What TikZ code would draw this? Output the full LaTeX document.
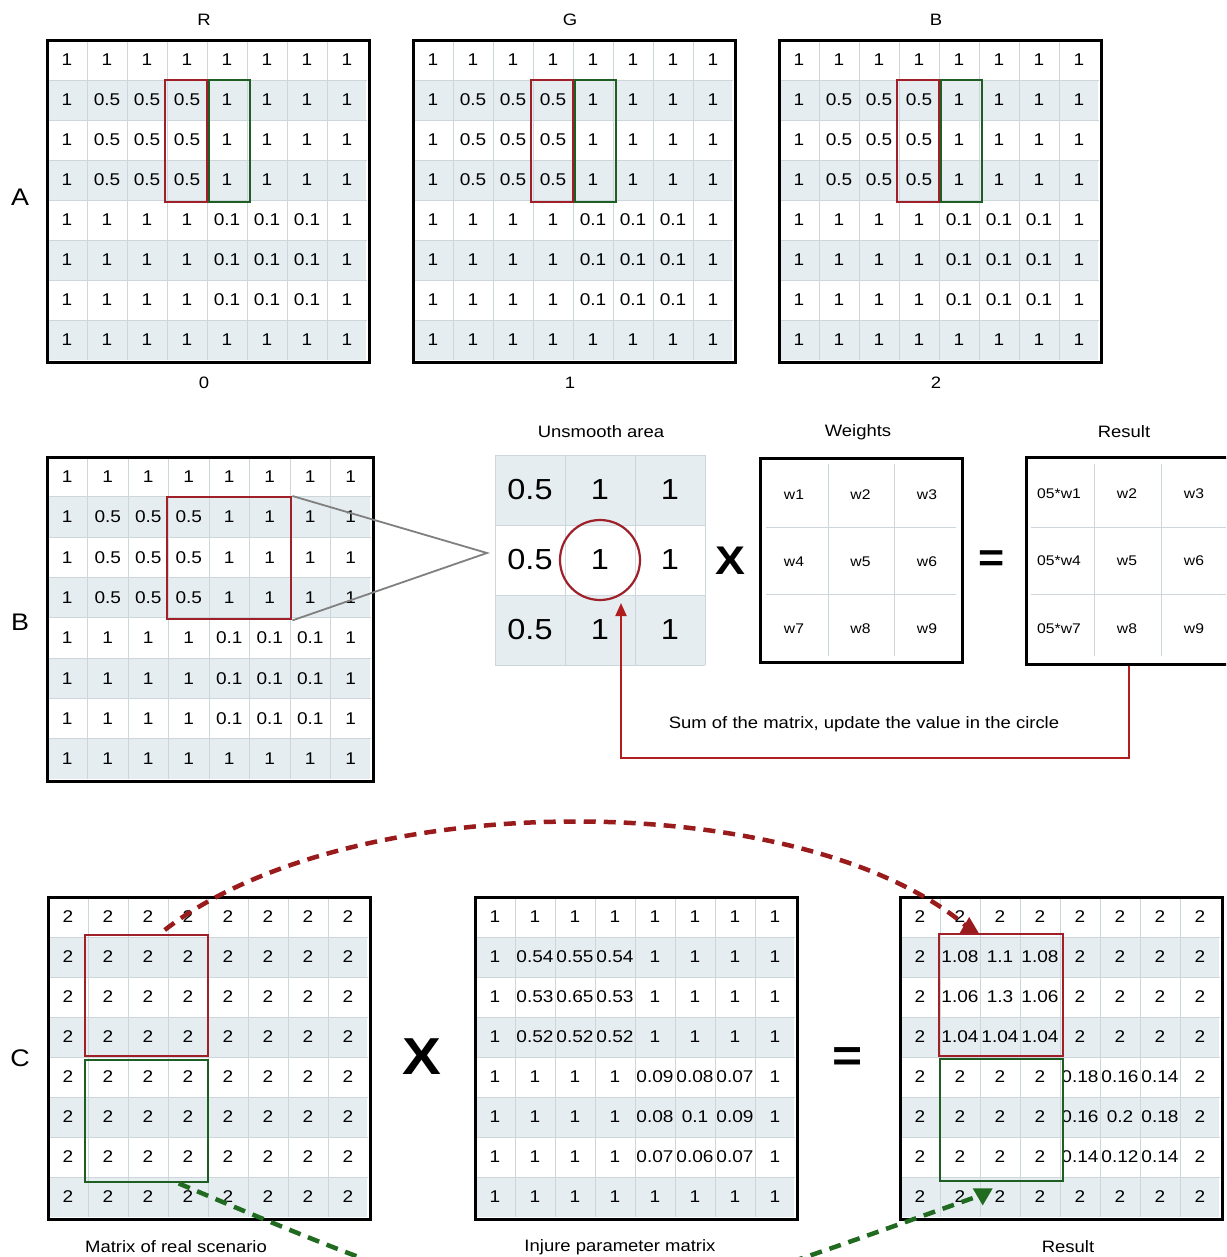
\documentclass[tikz,border=0pt]{standalone}
\usepackage{fontspec}
\setmainfont{Liberation Sans}[FakeStretch=1.12]
\usetikzlibrary{arrows.meta,calc}
\definecolor{rowshade}{HTML}{E5EDF1}
\definecolor{gridline}{HTML}{CDD6DB}
\definecolor{boxred}{HTML}{A0202A}
\definecolor{boxgreen}{HTML}{1E5E22}
\definecolor{dashred}{HTML}{9A1B1B}
\definecolor{dashgreen}{HTML}{216B21}
\definecolor{arrowred}{HTML}{B21E1E}
\newcommand{\mkgrid}[6]{%
  \foreach \rr in {2,4,6,8} \fill[rowshade] ({#2+1},{#3+(\rr-1)*#5}) rectangle ({#2+8*#4-1},{#3+\rr*#5});
  \foreach \i in {1,...,7} {\draw[gridln] ({#2+\i*#4},{#3}) -- ({#2+\i*#4},{#3+8*#5});
    \draw[gridln] ({#2},{#3+\i*#5}) -- ({#2+8*#4},{#3+\i*#5});}
  \node[gframe, minimum width={8*#4+2}, minimum height={8*#5+2}, anchor=north west] (#1) at ({#2-1},{#3-1}) {};
  \foreach \row [count=\r] in #6 {\foreach \v [count=\c] in \row {
    \node[cell] (#1-\r-\c) at ({#2+(\c-0.5)*#4},{#3+(\r-0.5)*#5}) {\v};}}
}
\def\rowsA{{1,1,1,1,1,1,1,1},{1,0.5,0.5,0.5,1,1,1,1},{1,0.5,0.5,0.5,1,1,1,1},{1,0.5,0.5,0.5,1,1,1,1},{1,1,1,1,0.1,0.1,0.1,1},{1,1,1,1,0.1,0.1,0.1,1},{1,1,1,1,0.1,0.1,0.1,1},{1,1,1,1,1,1,1,1}}
\def\rowsTwo{{2,2,2,2,2,2,2,2},{2,2,2,2,2,2,2,2},{2,2,2,2,2,2,2,2},{2,2,2,2,2,2,2,2},{2,2,2,2,2,2,2,2},{2,2,2,2,2,2,2,2},{2,2,2,2,2,2,2,2},{2,2,2,2,2,2,2,2}}
\def\rowsInj{{1,1,1,1,1,1,1,1},{1,0.54,0.55,0.54,1,1,1,1},{1,0.53,0.65,0.53,1,1,1,1},{1,0.52,0.52,0.52,1,1,1,1},{1,1,1,1,0.09,0.08,0.07,1},{1,1,1,1,0.08,0.1,0.09,1},{1,1,1,1,0.07,0.06,0.07,1},{1,1,1,1,1,1,1,1}}
\def\rowsRes{{2,2,2,2,2,2,2,2},{2,1.08,1.1,1.08,2,2,2,2},{2,1.06,1.3,1.06,2,2,2,2},{2,1.04,1.04,1.04,2,2,2,2},{2,2,2,2,0.18,0.16,0.14,2},{2,2,2,2,0.16,0.2,0.18,2},{2,2,2,2,0.14,0.12,0.14,2},{2,2,2,2,2,2,2,2}}
\begin{document}
\begin{tikzpicture}[x=1pt,y=-1pt,
  cell/.style={font=\fontsize{17}{17}\selectfont, inner sep=0pt},
  bigcell/.style={font=\fontsize{29}{29}\selectfont, inner sep=0pt},
  wcell/.style={font=\fontsize{14}{14}\selectfont, inner sep=0pt},
  gridln/.style={draw=gridline, line width=0.8pt},
  gframe/.style={draw=black, line width=3pt, inner sep=0pt},
  rbox/.style={draw=boxred, line width=2.4pt, inner sep=0pt, anchor=north west},
  gbox/.style={draw=boxgreen, line width=2.4pt, inner sep=0pt, anchor=north west},
  lbl/.style={font=\fontsize{16.5}{17}\selectfont, inner sep=0pt},
  sect/.style={font=\fontsize{24}{24}\selectfont, inner sep=0pt},
  op/.style={font=\fontsize{40}{40}\selectfont\bfseries, inner sep=0pt},
  dashr/.style={draw=dashred, line width=4.5pt, dash pattern=on 12pt off 8pt},
  dashg/.style={draw=dashgreen, line width=4.5pt, dash pattern=on 12pt off 8pt}]
\useasboundingbox (0,0) rectangle (1226,1257);
\fill[white] (0,0) rectangle (1226,1257);
\clip (0,0) rectangle (1226,1257);
% ---------- Section A ----------
\node[sect] (secA) at (20,197) {A};
\mkgrid{AR}{47}{40}{40}{40}{\rowsA}
\mkgrid{AG}{413}{40}{40}{40}{\rowsA}
\mkgrid{AB}{779}{40}{40}{40}{\rowsA}
\foreach \g/\dx/\t/\n in {AR/0/R/0, AG/366/G/1, AB/732/B/2} {
  \node[rbox, minimum width=42, minimum height=122] (\g red) at (164+\dx,79) {};
  \node[gbox, minimum width=41, minimum height=122] (\g green) at (208+\dx,79) {};
  \node[lbl] (\g title) at (204+\dx,20) {\t};
  \node[lbl] (\g num) at (204+\dx,383) {\n};
}
% ---------- Section B ----------
\node[sect] (secB) at (20,622) {B};
\mkgrid{BL}{47}{456.5}{40.5}{40.3}{\rowsA}
\node[rbox, minimum width=124, minimum height=122] (BLred) at (166,496) {};
\coordinate (apex) at (487,553);
\draw[gray, line width=1.8pt] (BLred.north east) -- (apex) -- (BLred.south east);
% unsmooth area
\foreach \rr in {1,3} \fill[rowshade] (495,{455+(\rr-1)*70}) rectangle ++(210,70);
\foreach \i in {0,...,3} {\draw[gridln] ({495+\i*70},455) -- ({495+\i*70},665);
  \draw[gridln] (495,{455+\i*70}) -- (705,{455+\i*70});}
\foreach \r in {1,2,3} {
  \node[bigcell] (u-\r-1) at (530,{420+\r*70}) {0.5};
  \node[bigcell] (u-\r-2) at (600,{420+\r*70}) {1};
  \node[bigcell] (u-\r-3) at (670,{420+\r*70}) {1};
}
\node[draw=boxred, circle, line width=2.2pt, minimum size=80pt, inner sep=0pt] (circ) at (u-2-2) {};
\node[lbl] (tUns) at (601,432) {Unsmooth area};
\node[op] (times1) at (730,561) {X};
% weights
\node[gframe, minimum width=202, minimum height=204] (wts) at (861,560) {};
\foreach \xx in {828,894} \draw[gridln] (\xx,464) -- (\xx,656);
\foreach \yy in {527,594} \draw[gridln] (766,\yy) -- (956,\yy);
\foreach \t [count=\k from 0] in {w1,w2,w3,w4,w5,w6,w7,w8,w9} {
  \pgfmathtruncatemacro\cc{mod(\k,3)}
  \pgfmathtruncatemacro\rw{div(\k,3)}
  \node[wcell] (w-\t) at ({794+\cc*66.5},{495+\rw*67}) {\t};
}
\node[lbl] (tW) at (858,432) {Weights};
\node[op] (eq1) at (992,561) {=};
% result
\node[gframe, minimum width=210, minimum height=207, anchor=north west] (resb) at (1025,456) {};
\foreach \xx in {1094,1161} \draw[gridln] (\xx,464) -- (\xx,656);
\foreach \yy in {527,594} \draw[gridln] (1031,\yy) -- (1226,\yy);
\foreach \t/\xx/\yy in {05*w1/1059/494, w2/1127/494, w3/1194/494, 05*w4/1059/561, w5/1127/561, w6/1194/561, 05*w7/1059/629, w8/1127/629, w9/1194/629} {
  \node[wcell] at (\xx,\yy) {\t};
}
\node[lbl] (tR) at (1124,432) {Result};
\coordinate (tipB) at (621,603);
\draw[arrowred, line width=2pt, -{Triangle[length=13pt,width=11pt]}] ($(resb.south west)+(104,0)$) -- ++(0,92) -| (tipB);
\node[lbl] (sumtxt) at (864,724) {Sum of the matrix, update the value in the circle};
% ---------- Section C ----------
\node[sect] (secC) at (20,1058) {C};
\mkgrid{CL}{48}{897}{40}{40}{\rowsTwo}
\mkgrid{CM}{475}{897}{40}{40}{\rowsInj}
\mkgrid{CR}{900}{897}{40}{40}{\rowsRes}
\node[rbox, minimum width=123, minimum height=121] (CLred) at (84,934) {};
\node[gbox, minimum width=123, minimum height=122] (CLgreen) at (84,1059) {};
\node[rbox, minimum width=124, minimum height=122] (CRred) at (938,933) {};
\node[gbox, minimum width=123, minimum height=122] (CRgreen) at (939,1058) {};
\node[op, font=\fontsize{52}{52}\selectfont\bfseries] (times2) at (422,1057) {X};
\node[op, font=\fontsize{46}{46}\selectfont\bfseries] (eq2) at (848,1060) {=};
\node[lbl] (tCL) at (176,1247) {Matrix of real scenario};
\node[lbl] (tCM) at (620,1247) {Injure parameter matrix};
\node[lbl] (tCR) at (1068,1247) {Result};
% dashed arrows
\coordinate (rtip) at ([xshift=-32pt]CRred.north);
\coordinate (gtip) at ([xshift=-19pt,yshift=-6pt]CRgreen.south);
\draw[dashr] ([xshift=18pt,yshift=4pt]CLred.north) .. controls (350,786) and (800,786) .. ($(rtip)+(-3,-7)$);
\fill[dashred] ($(rtip)+(-9.5,0)$) -- ($(rtip)+(9.5,0)$) -- ($(rtip)+(0,-16)$) -- cycle;
\draw[dashg] ([xshift=32pt]CLgreen.south) .. controls (578,1353) and (575,1339) .. ($(gtip)+(-8,9)$);
\fill[dashgreen] ($(gtip)+(-10,0)$) -- ($(gtip)+(10,0)$) -- ($(gtip)+(0,17)$) -- cycle;
\end{tikzpicture}
\end{document}
